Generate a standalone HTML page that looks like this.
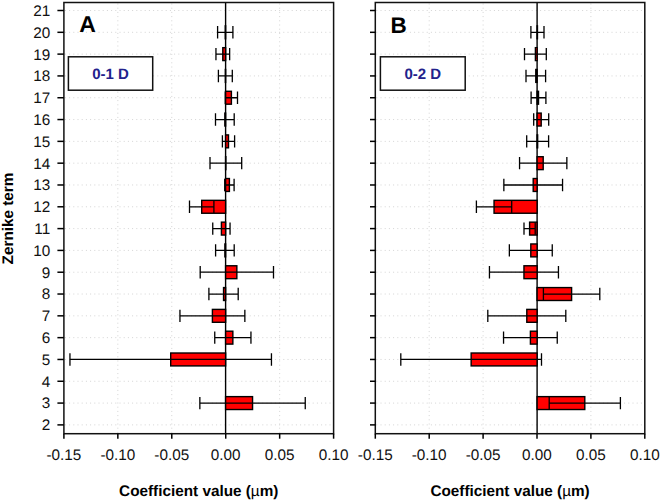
<!DOCTYPE html>
<html><head><meta charset="utf-8"><style>
html,body{margin:0;padding:0;background:#fff;}
svg{display:block;}
text{font-family:"Liberation Sans",sans-serif;text-rendering:geometricPrecision;}
.t{font-size:15.3px;fill:#111;}
.at{font-size:15.3px;font-weight:bold;fill:#000;}
.lt{font-weight:bold;fill:#000;}
.bx{font-size:15px;font-weight:bold;fill:#22228c;}
.g{stroke:#d4d4d4;stroke-width:1;stroke-dasharray:1 3.2;fill:none;}
.k{stroke:#000;fill:none;}
</style></head><body>
<svg width="660" height="501" viewBox="0 0 660 501">
<line x1="64.90" y1="424.89" x2="332.60" y2="424.89" class="g"/>
<line x1="64.90" y1="403.08" x2="332.60" y2="403.08" class="g"/>
<line x1="64.90" y1="381.27" x2="332.60" y2="381.27" class="g"/>
<line x1="64.90" y1="359.46" x2="332.60" y2="359.46" class="g"/>
<line x1="64.90" y1="337.65" x2="332.60" y2="337.65" class="g"/>
<line x1="64.90" y1="315.84" x2="332.60" y2="315.84" class="g"/>
<line x1="64.90" y1="294.03" x2="332.60" y2="294.03" class="g"/>
<line x1="64.90" y1="272.22" x2="332.60" y2="272.22" class="g"/>
<line x1="64.90" y1="250.41" x2="332.60" y2="250.41" class="g"/>
<line x1="64.90" y1="228.60" x2="332.60" y2="228.60" class="g"/>
<line x1="64.90" y1="206.79" x2="332.60" y2="206.79" class="g"/>
<line x1="64.90" y1="184.98" x2="332.60" y2="184.98" class="g"/>
<line x1="64.90" y1="163.17" x2="332.60" y2="163.17" class="g"/>
<line x1="64.90" y1="141.36" x2="332.60" y2="141.36" class="g"/>
<line x1="64.90" y1="119.55" x2="332.60" y2="119.55" class="g"/>
<line x1="64.90" y1="97.74" x2="332.60" y2="97.74" class="g"/>
<line x1="64.90" y1="75.93" x2="332.60" y2="75.93" class="g"/>
<line x1="64.90" y1="54.12" x2="332.60" y2="54.12" class="g"/>
<line x1="64.90" y1="32.31" x2="332.60" y2="32.31" class="g"/>
<line x1="64.90" y1="10.50" x2="332.60" y2="10.50" class="g"/>
<line x1="117.84" y1="3.50" x2="117.84" y2="432.70" class="g"/>
<line x1="171.78" y1="3.50" x2="171.78" y2="432.70" class="g"/>
<line x1="279.66" y1="3.50" x2="279.66" y2="432.70" class="g"/>
<rect x="68.40" y="56.8" width="84.30" height="33.4" fill="#fff" stroke="#111" stroke-width="1.5"/>
<text x="110.55" y="78.8" class="bx" text-anchor="middle">0-1 D</text>
<text x="79.30" y="31.6" class="lt" style="font-size:23px">A</text>
<line x1="225.60" y1="2.50" x2="225.60" y2="433.70" class="k" stroke-width="1.4"/>
<rect x="225.25" y="25.86" width="0.35" height="12.90" fill="#ff0000" stroke="#000" stroke-width="1.4"/>
<path d="M217.60 32.31H232.90M217.60 26.11V38.51M232.90 26.11V38.51" class="k" stroke-width="1.3"/>
<rect x="222.80" y="47.67" width="2.80" height="12.90" fill="#ff0000" stroke="#000" stroke-width="1.4"/>
<path d="M215.95 54.12H229.65M215.95 47.92V60.32M229.65 47.92V60.32" class="k" stroke-width="1.3"/>
<rect x="225.35" y="69.48" width="0.25" height="12.90" fill="#ff0000" stroke="#000" stroke-width="1.4"/>
<path d="M218.40 75.93H232.30M218.40 69.73V82.13M232.30 69.73V82.13" class="k" stroke-width="1.3"/>
<rect x="225.60" y="91.29" width="5.80" height="12.90" fill="#ff0000" stroke="#000" stroke-width="1.4"/>
<path d="M225.30 97.74H237.50M225.30 91.54V103.94M237.50 91.54V103.94" class="k" stroke-width="1.3"/>
<rect x="224.85" y="113.10" width="0.75" height="12.90" fill="#ff0000" stroke="#000" stroke-width="1.4"/>
<path d="M215.50 119.55H234.20M215.50 113.35V125.75M234.20 113.35V125.75" class="k" stroke-width="1.3"/>
<rect x="225.60" y="134.91" width="2.90" height="12.90" fill="#ff0000" stroke="#000" stroke-width="1.4"/>
<path d="M222.40 141.36H234.60M222.40 135.16V147.56M234.60 135.16V147.56" class="k" stroke-width="1.3"/>
<rect x="225.60" y="156.72" width="0.25" height="12.90" fill="#ff0000" stroke="#000" stroke-width="1.4"/>
<path d="M210.00 163.17H241.70M210.00 156.97V169.37M241.70 156.97V169.37" class="k" stroke-width="1.3"/>
<rect x="225.60" y="178.53" width="3.80" height="12.90" fill="#ff0000" stroke="#000" stroke-width="1.4"/>
<path d="M224.70 184.98H234.10M224.70 178.78V191.18M234.10 178.78V191.18" class="k" stroke-width="1.3"/>
<rect x="201.70" y="200.34" width="23.90" height="12.90" fill="#ff0000" stroke="#000" stroke-width="1.4"/>
<path d="M189.50 206.79H213.90M189.50 200.59V212.99M213.90 200.59V212.99" class="k" stroke-width="1.3"/>
<rect x="221.40" y="222.15" width="4.20" height="12.90" fill="#ff0000" stroke="#000" stroke-width="1.4"/>
<path d="M212.75 228.60H230.05M212.75 222.40V234.80M230.05 222.40V234.80" class="k" stroke-width="1.3"/>
<rect x="224.90" y="243.96" width="0.70" height="12.90" fill="#ff0000" stroke="#000" stroke-width="1.4"/>
<path d="M215.60 250.41H234.20M215.60 244.21V256.61M234.20 244.21V256.61" class="k" stroke-width="1.3"/>
<rect x="225.60" y="265.77" width="11.25" height="12.90" fill="#ff0000" stroke="#000" stroke-width="1.4"/>
<path d="M200.20 272.22H273.50M200.20 266.02V278.42M273.50 266.02V278.42" class="k" stroke-width="1.3"/>
<rect x="223.55" y="287.58" width="2.05" height="12.90" fill="#ff0000" stroke="#000" stroke-width="1.4"/>
<path d="M208.90 294.03H238.20M208.90 287.83V300.23M238.20 287.83V300.23" class="k" stroke-width="1.3"/>
<rect x="212.40" y="309.39" width="13.20" height="12.90" fill="#ff0000" stroke="#000" stroke-width="1.4"/>
<path d="M179.95 315.84H244.85M179.95 309.64V322.04M244.85 309.64V322.04" class="k" stroke-width="1.3"/>
<rect x="225.60" y="331.20" width="7.25" height="12.90" fill="#ff0000" stroke="#000" stroke-width="1.4"/>
<path d="M214.75 337.65H250.95M214.75 331.45V343.85M250.95 331.45V343.85" class="k" stroke-width="1.3"/>
<rect x="170.70" y="353.01" width="54.90" height="12.90" fill="#ff0000" stroke="#000" stroke-width="1.4"/>
<path d="M69.95 359.46H271.45M69.95 353.26V365.66M271.45 353.26V365.66" class="k" stroke-width="1.3"/>
<rect x="225.60" y="396.63" width="26.95" height="12.90" fill="#ff0000" stroke="#000" stroke-width="1.4"/>
<path d="M199.85 403.08H305.25M199.85 396.88V409.28M305.25 396.88V409.28" class="k" stroke-width="1.3"/>
<rect x="63.90" y="2.50" width="269.70" height="431.20" fill="none" stroke="#111" stroke-width="1.5"/>
<line x1="57.40" y1="424.89" x2="63.90" y2="424.89" class="k" stroke-width="1.5"/>
<text x="50.2" y="430.29" class="t" text-anchor="end">2</text>
<line x1="57.40" y1="403.08" x2="63.90" y2="403.08" class="k" stroke-width="1.5"/>
<text x="50.2" y="408.48" class="t" text-anchor="end">3</text>
<line x1="57.40" y1="381.27" x2="63.90" y2="381.27" class="k" stroke-width="1.5"/>
<text x="50.2" y="386.67" class="t" text-anchor="end">4</text>
<line x1="57.40" y1="359.46" x2="63.90" y2="359.46" class="k" stroke-width="1.5"/>
<text x="50.2" y="364.86" class="t" text-anchor="end">5</text>
<line x1="57.40" y1="337.65" x2="63.90" y2="337.65" class="k" stroke-width="1.5"/>
<text x="50.2" y="343.05" class="t" text-anchor="end">6</text>
<line x1="57.40" y1="315.84" x2="63.90" y2="315.84" class="k" stroke-width="1.5"/>
<text x="50.2" y="321.24" class="t" text-anchor="end">7</text>
<line x1="57.40" y1="294.03" x2="63.90" y2="294.03" class="k" stroke-width="1.5"/>
<text x="50.2" y="299.43" class="t" text-anchor="end">8</text>
<line x1="57.40" y1="272.22" x2="63.90" y2="272.22" class="k" stroke-width="1.5"/>
<text x="50.2" y="277.62" class="t" text-anchor="end">9</text>
<line x1="57.40" y1="250.41" x2="63.90" y2="250.41" class="k" stroke-width="1.5"/>
<text x="50.2" y="255.81" class="t" text-anchor="end">10</text>
<line x1="57.40" y1="228.60" x2="63.90" y2="228.60" class="k" stroke-width="1.5"/>
<text x="50.2" y="234.00" class="t" text-anchor="end">11</text>
<line x1="57.40" y1="206.79" x2="63.90" y2="206.79" class="k" stroke-width="1.5"/>
<text x="50.2" y="212.19" class="t" text-anchor="end">12</text>
<line x1="57.40" y1="184.98" x2="63.90" y2="184.98" class="k" stroke-width="1.5"/>
<text x="50.2" y="190.38" class="t" text-anchor="end">13</text>
<line x1="57.40" y1="163.17" x2="63.90" y2="163.17" class="k" stroke-width="1.5"/>
<text x="50.2" y="168.57" class="t" text-anchor="end">14</text>
<line x1="57.40" y1="141.36" x2="63.90" y2="141.36" class="k" stroke-width="1.5"/>
<text x="50.2" y="146.76" class="t" text-anchor="end">15</text>
<line x1="57.40" y1="119.55" x2="63.90" y2="119.55" class="k" stroke-width="1.5"/>
<text x="50.2" y="124.95" class="t" text-anchor="end">16</text>
<line x1="57.40" y1="97.74" x2="63.90" y2="97.74" class="k" stroke-width="1.5"/>
<text x="50.2" y="103.14" class="t" text-anchor="end">17</text>
<line x1="57.40" y1="75.93" x2="63.90" y2="75.93" class="k" stroke-width="1.5"/>
<text x="50.2" y="81.33" class="t" text-anchor="end">18</text>
<line x1="57.40" y1="54.12" x2="63.90" y2="54.12" class="k" stroke-width="1.5"/>
<text x="50.2" y="59.52" class="t" text-anchor="end">19</text>
<line x1="57.40" y1="32.31" x2="63.90" y2="32.31" class="k" stroke-width="1.5"/>
<text x="50.2" y="37.71" class="t" text-anchor="end">20</text>
<line x1="57.40" y1="10.50" x2="63.90" y2="10.50" class="k" stroke-width="1.5"/>
<text x="50.2" y="15.90" class="t" text-anchor="end">21</text>
<line x1="63.90" y1="433.70" x2="63.90" y2="438.70" class="k" stroke-width="1.5"/>
<text x="63.90" y="459.8" class="t" text-anchor="middle">-0.15</text>
<line x1="117.84" y1="433.70" x2="117.84" y2="438.70" class="k" stroke-width="1.5"/>
<text x="117.84" y="459.8" class="t" text-anchor="middle">-0.10</text>
<line x1="171.78" y1="433.70" x2="171.78" y2="438.70" class="k" stroke-width="1.5"/>
<text x="171.78" y="459.8" class="t" text-anchor="middle">-0.05</text>
<line x1="225.72" y1="433.70" x2="225.72" y2="438.70" class="k" stroke-width="1.5"/>
<text x="225.72" y="459.8" class="t" text-anchor="middle">0.00</text>
<line x1="279.66" y1="433.70" x2="279.66" y2="438.70" class="k" stroke-width="1.5"/>
<text x="279.66" y="459.8" class="t" text-anchor="middle">0.05</text>
<line x1="333.60" y1="433.70" x2="333.60" y2="438.70" class="k" stroke-width="1.5"/>
<text x="333.60" y="459.8" class="t" text-anchor="middle">0.10</text>
<text x="198.75" y="495.8" class="at" text-anchor="middle">Coefficient value (<tspan style="font-weight:normal">µ</tspan>m)</text>
<line x1="376.30" y1="424.89" x2="643.80" y2="424.89" class="g"/>
<line x1="376.30" y1="403.08" x2="643.80" y2="403.08" class="g"/>
<line x1="376.30" y1="381.27" x2="643.80" y2="381.27" class="g"/>
<line x1="376.30" y1="359.46" x2="643.80" y2="359.46" class="g"/>
<line x1="376.30" y1="337.65" x2="643.80" y2="337.65" class="g"/>
<line x1="376.30" y1="315.84" x2="643.80" y2="315.84" class="g"/>
<line x1="376.30" y1="294.03" x2="643.80" y2="294.03" class="g"/>
<line x1="376.30" y1="272.22" x2="643.80" y2="272.22" class="g"/>
<line x1="376.30" y1="250.41" x2="643.80" y2="250.41" class="g"/>
<line x1="376.30" y1="228.60" x2="643.80" y2="228.60" class="g"/>
<line x1="376.30" y1="206.79" x2="643.80" y2="206.79" class="g"/>
<line x1="376.30" y1="184.98" x2="643.80" y2="184.98" class="g"/>
<line x1="376.30" y1="163.17" x2="643.80" y2="163.17" class="g"/>
<line x1="376.30" y1="141.36" x2="643.80" y2="141.36" class="g"/>
<line x1="376.30" y1="119.55" x2="643.80" y2="119.55" class="g"/>
<line x1="376.30" y1="97.74" x2="643.80" y2="97.74" class="g"/>
<line x1="376.30" y1="75.93" x2="643.80" y2="75.93" class="g"/>
<line x1="376.30" y1="54.12" x2="643.80" y2="54.12" class="g"/>
<line x1="376.30" y1="32.31" x2="643.80" y2="32.31" class="g"/>
<line x1="376.30" y1="10.50" x2="643.80" y2="10.50" class="g"/>
<line x1="429.20" y1="3.50" x2="429.20" y2="432.70" class="g"/>
<line x1="483.10" y1="3.50" x2="483.10" y2="432.70" class="g"/>
<line x1="590.90" y1="3.50" x2="590.90" y2="432.70" class="g"/>
<rect x="380.40" y="56.8" width="84.80" height="33.4" fill="#fff" stroke="#111" stroke-width="1.5"/>
<text x="422.80" y="78.8" class="bx" text-anchor="middle">0-2 D</text>
<text x="390.50" y="32.9" class="lt" style="font-size:22.5px">B</text>
<line x1="537.10" y1="2.50" x2="537.10" y2="433.70" class="k" stroke-width="1.4"/>
<rect x="537.10" y="25.86" width="0.35" height="12.90" fill="#ff0000" stroke="#000" stroke-width="1.4"/>
<path d="M530.90 32.31H544.00M530.90 26.11V38.51M544.00 26.11V38.51" class="k" stroke-width="1.3"/>
<rect x="535.40" y="47.67" width="1.70" height="12.90" fill="#ff0000" stroke="#000" stroke-width="1.4"/>
<path d="M524.50 54.12H546.30M524.50 47.92V60.32M546.30 47.92V60.32" class="k" stroke-width="1.3"/>
<rect x="535.80" y="69.48" width="1.30" height="12.90" fill="#ff0000" stroke="#000" stroke-width="1.4"/>
<path d="M526.00 75.93H545.60M526.00 69.73V82.13M545.60 69.73V82.13" class="k" stroke-width="1.3"/>
<rect x="537.10" y="91.29" width="1.40" height="12.90" fill="#ff0000" stroke="#000" stroke-width="1.4"/>
<path d="M531.10 97.74H545.90M531.10 91.54V103.94M545.90 91.54V103.94" class="k" stroke-width="1.3"/>
<rect x="537.10" y="113.10" width="4.10" height="12.90" fill="#ff0000" stroke="#000" stroke-width="1.4"/>
<path d="M533.70 119.55H548.70M533.70 113.35V125.75M548.70 113.35V125.75" class="k" stroke-width="1.3"/>
<rect x="537.10" y="134.91" width="0.55" height="12.90" fill="#ff0000" stroke="#000" stroke-width="1.4"/>
<path d="M526.70 141.36H548.60M526.70 135.16V147.56M548.60 135.16V147.56" class="k" stroke-width="1.3"/>
<rect x="537.10" y="156.72" width="6.10" height="12.90" fill="#ff0000" stroke="#000" stroke-width="1.4"/>
<path d="M519.55 163.17H566.85M519.55 156.97V169.37M566.85 156.97V169.37" class="k" stroke-width="1.3"/>
<rect x="533.20" y="178.53" width="3.90" height="12.90" fill="#ff0000" stroke="#000" stroke-width="1.4"/>
<path d="M503.85 184.98H562.55M503.85 178.78V191.18M562.55 178.78V191.18" class="k" stroke-width="1.3"/>
<rect x="494.05" y="200.34" width="43.05" height="12.90" fill="#ff0000" stroke="#000" stroke-width="1.4"/>
<path d="M476.40 206.79H511.70M476.40 200.59V212.99M511.70 200.59V212.99" class="k" stroke-width="1.3"/>
<rect x="529.60" y="222.15" width="7.50" height="12.90" fill="#ff0000" stroke="#000" stroke-width="1.4"/>
<path d="M524.00 228.60H535.20M524.00 222.40V234.80M535.20 222.40V234.80" class="k" stroke-width="1.3"/>
<rect x="530.80" y="243.96" width="6.30" height="12.90" fill="#ff0000" stroke="#000" stroke-width="1.4"/>
<path d="M509.35 250.41H552.25M509.35 244.21V256.61M552.25 244.21V256.61" class="k" stroke-width="1.3"/>
<rect x="523.95" y="265.77" width="13.15" height="12.90" fill="#ff0000" stroke="#000" stroke-width="1.4"/>
<path d="M489.45 272.22H558.45M489.45 266.02V278.42M558.45 266.02V278.42" class="k" stroke-width="1.3"/>
<rect x="537.10" y="287.58" width="34.50" height="12.90" fill="#ff0000" stroke="#000" stroke-width="1.4"/>
<path d="M543.40 294.03H599.80M543.40 287.83V300.23M599.80 287.83V300.23" class="k" stroke-width="1.3"/>
<rect x="526.80" y="309.39" width="10.30" height="12.90" fill="#ff0000" stroke="#000" stroke-width="1.4"/>
<path d="M487.80 315.84H565.80M487.80 309.64V322.04M565.80 309.64V322.04" class="k" stroke-width="1.3"/>
<rect x="530.40" y="331.20" width="6.70" height="12.90" fill="#ff0000" stroke="#000" stroke-width="1.4"/>
<path d="M503.55 337.65H557.25M503.55 331.45V343.85M557.25 331.45V343.85" class="k" stroke-width="1.3"/>
<rect x="471.15" y="353.01" width="65.95" height="12.90" fill="#ff0000" stroke="#000" stroke-width="1.4"/>
<path d="M400.80 359.46H541.50M400.80 353.26V365.66M541.50 353.26V365.66" class="k" stroke-width="1.3"/>
<rect x="537.10" y="396.63" width="47.70" height="12.90" fill="#ff0000" stroke="#000" stroke-width="1.4"/>
<path d="M549.20 403.08H620.40M549.20 396.88V409.28M620.40 396.88V409.28" class="k" stroke-width="1.3"/>
<rect x="375.30" y="2.50" width="269.50" height="431.20" fill="none" stroke="#111" stroke-width="1.5"/>
<line x1="370.00" y1="424.89" x2="375.30" y2="424.89" class="k" stroke-width="1.5"/>
<line x1="370.00" y1="403.08" x2="375.30" y2="403.08" class="k" stroke-width="1.5"/>
<line x1="370.00" y1="381.27" x2="375.30" y2="381.27" class="k" stroke-width="1.5"/>
<line x1="370.00" y1="359.46" x2="375.30" y2="359.46" class="k" stroke-width="1.5"/>
<line x1="370.00" y1="337.65" x2="375.30" y2="337.65" class="k" stroke-width="1.5"/>
<line x1="370.00" y1="315.84" x2="375.30" y2="315.84" class="k" stroke-width="1.5"/>
<line x1="370.00" y1="294.03" x2="375.30" y2="294.03" class="k" stroke-width="1.5"/>
<line x1="370.00" y1="272.22" x2="375.30" y2="272.22" class="k" stroke-width="1.5"/>
<line x1="370.00" y1="250.41" x2="375.30" y2="250.41" class="k" stroke-width="1.5"/>
<line x1="370.00" y1="228.60" x2="375.30" y2="228.60" class="k" stroke-width="1.5"/>
<line x1="370.00" y1="206.79" x2="375.30" y2="206.79" class="k" stroke-width="1.5"/>
<line x1="370.00" y1="184.98" x2="375.30" y2="184.98" class="k" stroke-width="1.5"/>
<line x1="370.00" y1="163.17" x2="375.30" y2="163.17" class="k" stroke-width="1.5"/>
<line x1="370.00" y1="141.36" x2="375.30" y2="141.36" class="k" stroke-width="1.5"/>
<line x1="370.00" y1="119.55" x2="375.30" y2="119.55" class="k" stroke-width="1.5"/>
<line x1="370.00" y1="97.74" x2="375.30" y2="97.74" class="k" stroke-width="1.5"/>
<line x1="370.00" y1="75.93" x2="375.30" y2="75.93" class="k" stroke-width="1.5"/>
<line x1="370.00" y1="54.12" x2="375.30" y2="54.12" class="k" stroke-width="1.5"/>
<line x1="370.00" y1="32.31" x2="375.30" y2="32.31" class="k" stroke-width="1.5"/>
<line x1="370.00" y1="10.50" x2="375.30" y2="10.50" class="k" stroke-width="1.5"/>
<line x1="375.30" y1="433.70" x2="375.30" y2="438.70" class="k" stroke-width="1.5"/>
<text x="375.30" y="459.8" class="t" text-anchor="middle">-0.15</text>
<line x1="429.20" y1="433.70" x2="429.20" y2="438.70" class="k" stroke-width="1.5"/>
<text x="429.20" y="459.8" class="t" text-anchor="middle">-0.10</text>
<line x1="483.10" y1="433.70" x2="483.10" y2="438.70" class="k" stroke-width="1.5"/>
<text x="483.10" y="459.8" class="t" text-anchor="middle">-0.05</text>
<line x1="537.00" y1="433.70" x2="537.00" y2="438.70" class="k" stroke-width="1.5"/>
<text x="537.00" y="459.8" class="t" text-anchor="middle">0.00</text>
<line x1="590.90" y1="433.70" x2="590.90" y2="438.70" class="k" stroke-width="1.5"/>
<text x="590.90" y="459.8" class="t" text-anchor="middle">0.05</text>
<line x1="644.80" y1="433.70" x2="644.80" y2="438.70" class="k" stroke-width="1.5"/>
<text x="644.80" y="459.8" class="t" text-anchor="middle">0.10</text>
<text x="510.05" y="495.8" class="at" text-anchor="middle">Coefficient value (<tspan style="font-weight:normal">µ</tspan>m)</text>
<text transform="translate(12.8 218.5) rotate(-90)" class="at" text-anchor="middle">Zernike term</text>
</svg>
</body></html>
